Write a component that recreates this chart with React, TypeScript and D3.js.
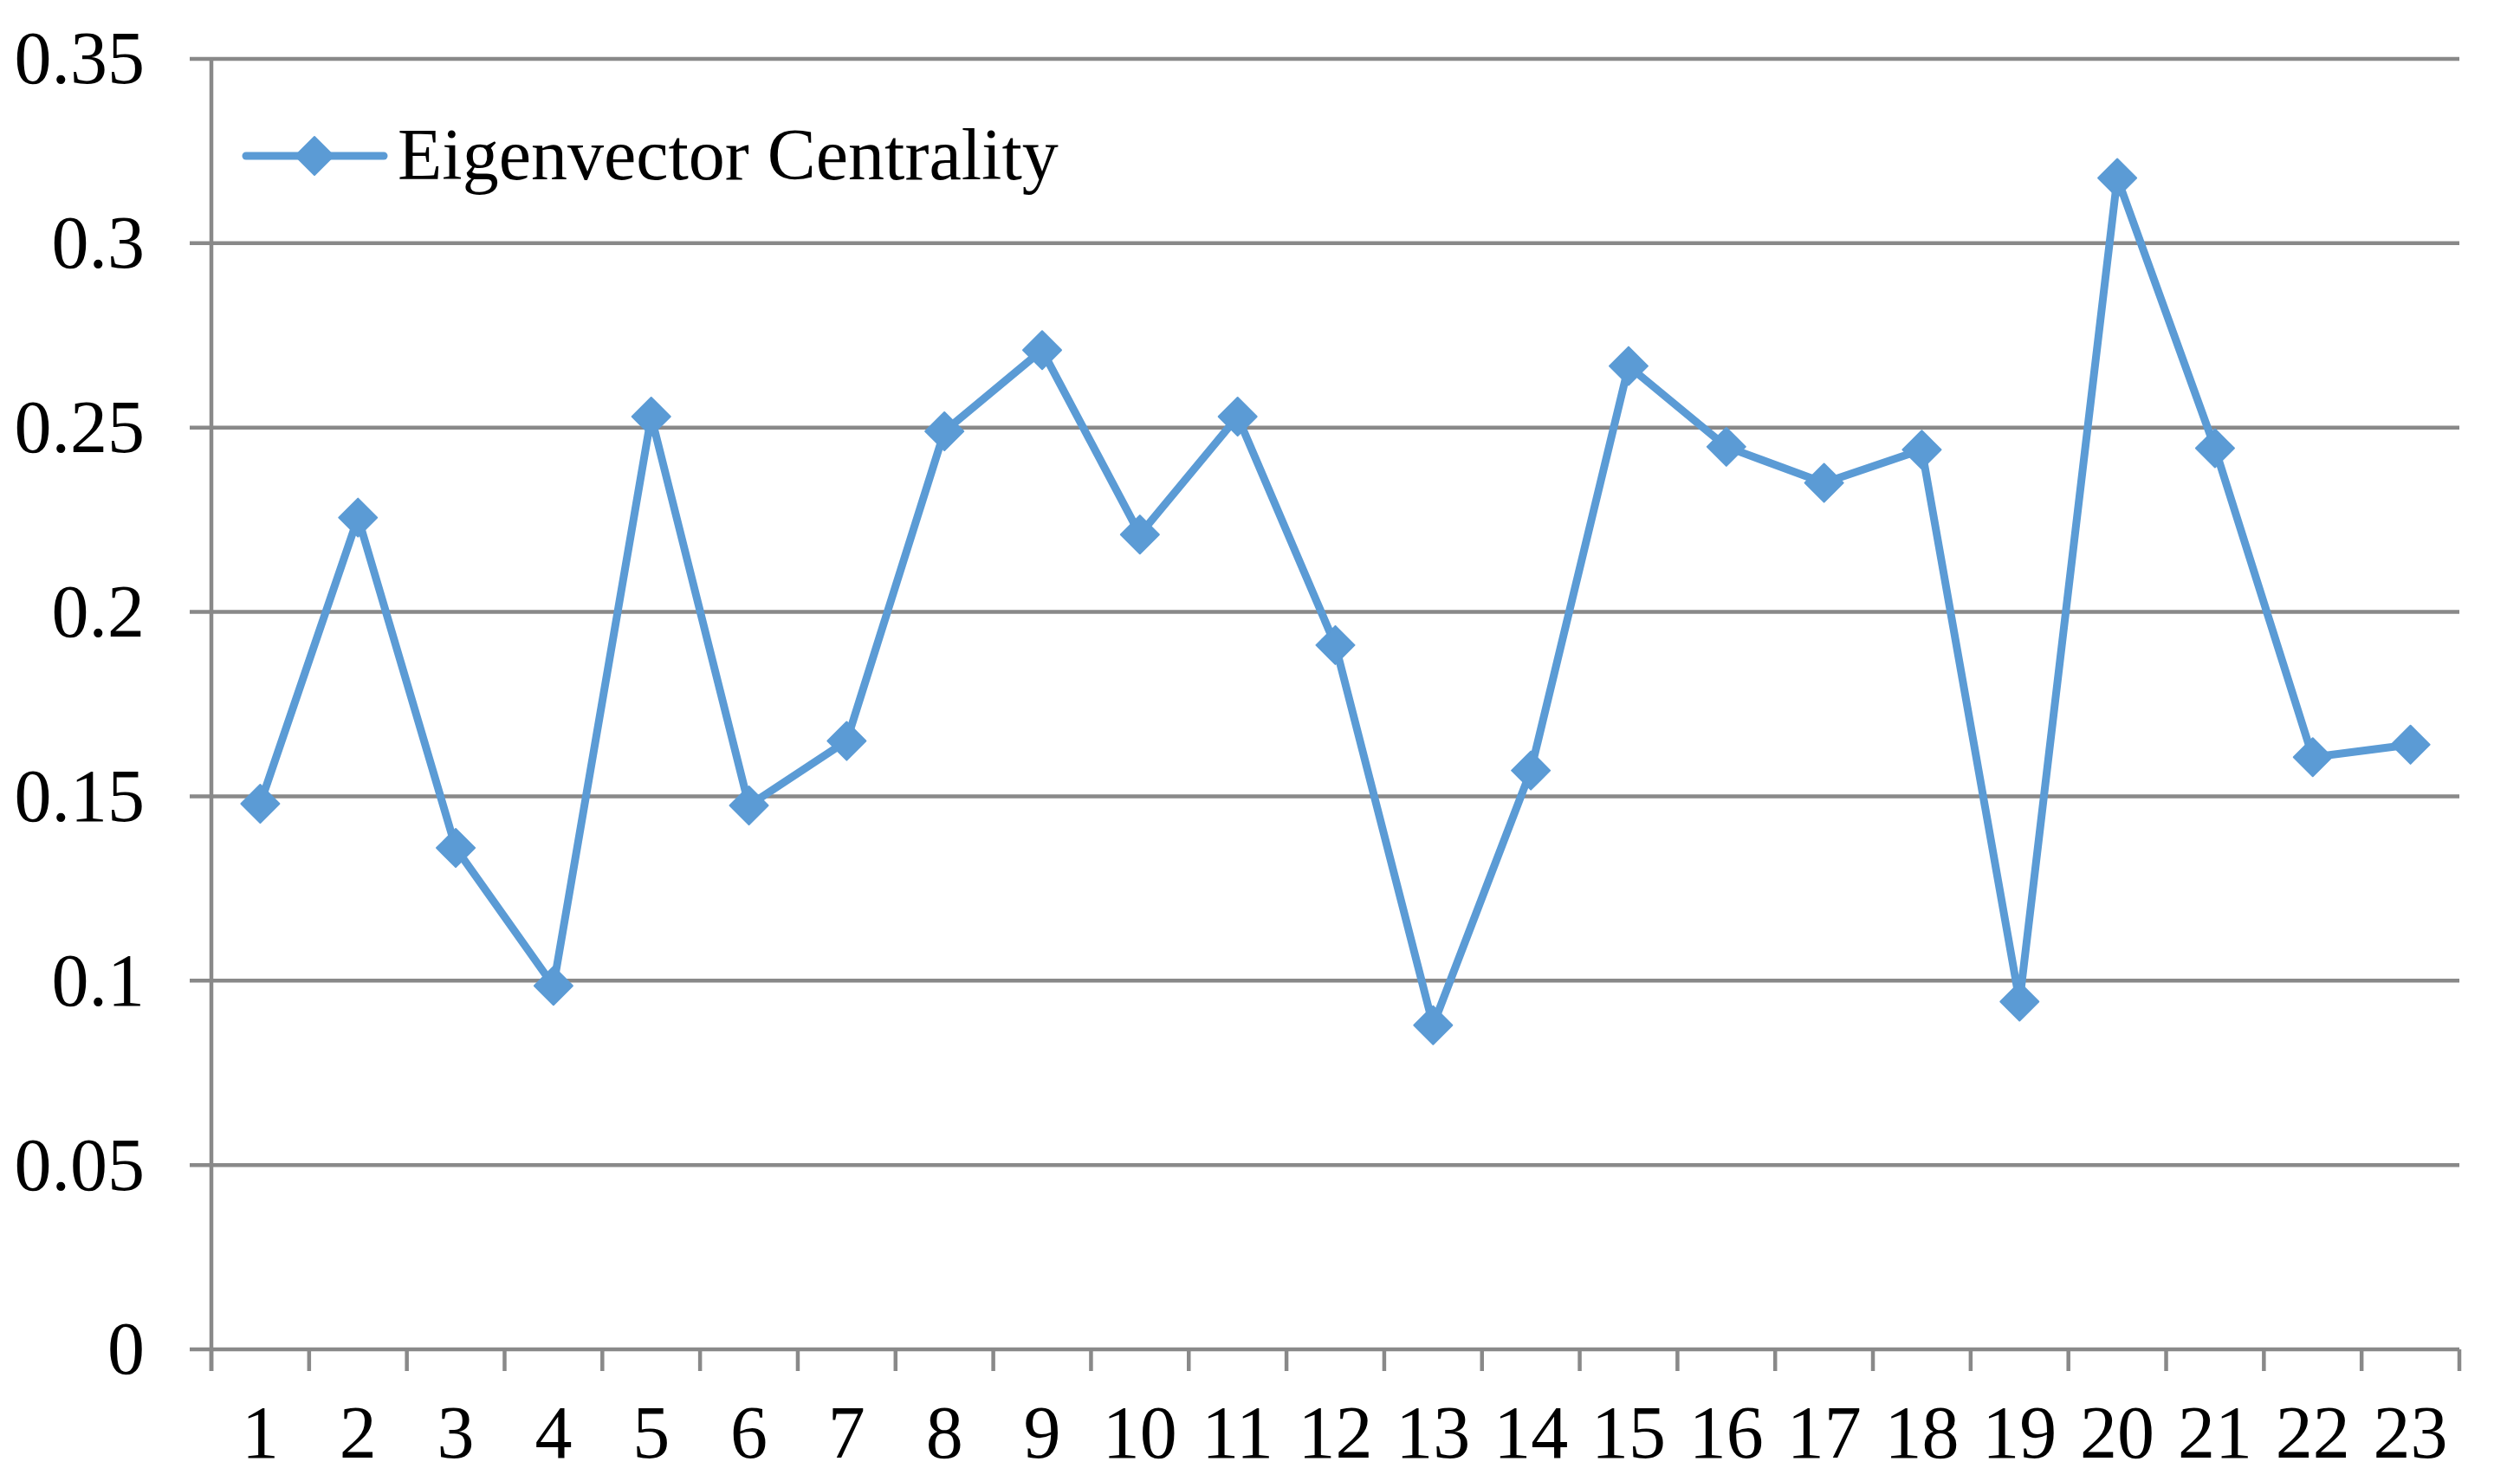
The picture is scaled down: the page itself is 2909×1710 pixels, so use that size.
import React, { useEffect, useRef } from "react";
import * as d3 from "d3";

const categories: string[] = Array.from({ length: 23 }, (_, i) => String(i + 1));
const seriesName = "Eigenvector Centrality";
const values: number[] = [
  0.148, 0.2256, 0.136, 0.0986, 0.253, 0.1475, 0.165, 0.249, 0.271, 0.221, 0.253, 0.191,
  0.0879, 0.157, 0.2667, 0.2448, 0.235, 0.244, 0.0943, 0.3177, 0.2444, 0.1606, 0.164,
];
const yTicks: number[] = [0, 0.05, 0.1, 0.15, 0.2, 0.25, 0.3, 0.35];

const W = 2909;
const H = 1710;
const LEFT = 244;
const RIGHT = 2839;
const TOP = 68;
const BOTTOM = 1558;
const GRID = "#898989";
const BLUE = "#5B9BD5";
const FONT = "'Liberation Serif', 'Times New Roman', serif";
const FS = 86;

export default function App() {
  const ref = useRef<SVGSVGElement | null>(null);

  useEffect(() => {
    const svg = d3.select(ref.current);
    svg.selectAll("*").remove();

    const x = d3.scaleBand<string>().domain(categories).range([LEFT, RIGHT]).padding(0);
    const y = d3.scaleLinear().domain([0, 0.35]).range([BOTTOM, TOP]);
    const cx = (c: string) => (x(c) as number) + x.bandwidth() / 2;

    svg
      .append("g")
      .selectAll("line")
      .data(yTicks)
      .join("line")
      .attr("x1", LEFT - 25)
      .attr("x2", RIGHT)
      .attr("y1", (d) => y(d))
      .attr("y2", (d) => y(d))
      .attr("stroke", GRID)
      .attr("stroke-width", 4.5);

    svg
      .append("line")
      .attr("x1", LEFT)
      .attr("x2", LEFT)
      .attr("y1", TOP)
      .attr("y2", BOTTOM + 25)
      .attr("stroke", GRID)
      .attr("stroke-width", 4.5);

    const bounds = categories.map((c) => x(c) as number).concat([RIGHT]);
    svg
      .append("g")
      .selectAll("line")
      .data(bounds)
      .join("line")
      .attr("x1", (d) => d)
      .attr("x2", (d) => d)
      .attr("y1", BOTTOM)
      .attr("y2", BOTTOM + 25)
      .attr("stroke", GRID)
      .attr("stroke-width", 4.5);

    svg
      .append("g")
      .selectAll("text")
      .data(yTicks)
      .join("text")
      .attr("x", 167)
      .attr("y", (d) => y(d))
      .attr("dy", "0.33em")
      .attr("text-anchor", "end")
      .attr("font-family", FONT)
      .attr("font-size", FS)
      .attr("fill", "#000")
      .text((d) => String(+d.toFixed(2)));

    svg
      .append("g")
      .selectAll("text")
      .data(categories)
      .join("text")
      .attr("x", (d) => cx(d))
      .attr("y", 1683)
      .attr("text-anchor", "middle")
      .attr("font-family", FONT)
      .attr("font-size", FS)
      .attr("fill", "#000")
      .text((d) => d);

    const line = d3
      .line<number>()
      .x((_, i) => cx(categories[i]))
      .y((d) => y(d));
    svg
      .append("path")
      .attr("d", line(values) as string)
      .attr("fill", "none")
      .attr("stroke", BLUE)
      .attr("stroke-width", 9)
      .attr("stroke-linejoin", "round")
      .attr("stroke-linecap", "round");

    const diamond = (r: number) => `M0,${-r}L${r},0L0,${r}L${-r},0Z`;
    svg
      .append("g")
      .selectAll("path")
      .data(values)
      .join("path")
      .attr("transform", (d, i) => `translate(${cx(categories[i])},${y(d)})`)
      .attr("d", diamond(22))
      .attr("fill", BLUE)
      .attr("stroke", BLUE)
      .attr("stroke-width", 2)
      .attr("stroke-linejoin", "round");

    const lg = svg.append("g");
    lg.append("line")
      .attr("x1", 284)
      .attr("x2", 443)
      .attr("y1", 180)
      .attr("y2", 180)
      .attr("stroke", BLUE)
      .attr("stroke-width", 9)
      .attr("stroke-linecap", "round");
    lg.append("path")
      .attr("transform", "translate(363,180)")
      .attr("d", diamond(22))
      .attr("fill", BLUE)
      .attr("stroke", BLUE)
      .attr("stroke-width", 2)
      .attr("stroke-linejoin", "round");
    lg.append("text")
      .attr("x", 459)
      .attr("y", 207)
      .attr("font-family", FONT)
      .attr("font-size", 84)
      .attr("fill", "#000")
      .text(seriesName);
  }, []);

  return (
    <svg
      ref={ref}
      width={W}
      height={H}
      style={{ position: "absolute", left: 0, top: 0, display: "block", background: "#fff" }}
    />
  );
}
